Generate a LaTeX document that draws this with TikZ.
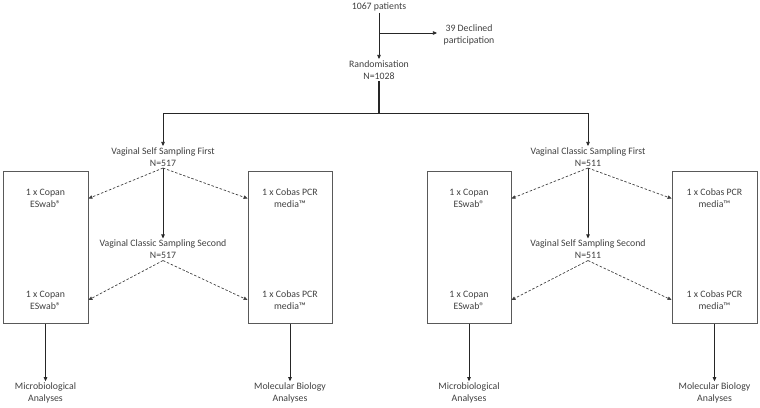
\documentclass[tikz,border=0pt]{standalone}
\usepackage{fontspec}
\setmainfont{Carlito}
\usetikzlibrary{arrows.meta}
\begin{document}
\begin{tikzpicture}[x=1pt,y=-1pt,
  txt/.style={align=center,inner sep=1.5pt,text=black!75,font=\fontsize{9.8}{11.8}\selectfont},
  box/.style={draw=black!65,line width=0.8pt,inner sep=0pt},
  ln/.style={draw=black!85,line width=0.7pt},
  arr/.style={ln,-{Triangle[length=4pt,width=3.5pt]}},
  darr/.style={arr,dash pattern=on 2.5pt off 1.8pt,draw=black!75}]
\useasboundingbox (0,0) rectangle (760,407);
% top
\node[txt] (pat) at (379,7) {1067 patients};
\node[txt] (rand) at (379,70) {Randomisation\\N=1028};
\node[txt] (dec) at (469,35) {39 Declined\\participation};
\coordinate (j1) at (379,33);
\coordinate (br) at (379,113);
\draw[arr] (pat) -- (rand);
\draw[arr,shorten >=5pt] (j1) -- (dec.west |- j1);
\draw[ln,line width=1.5pt] (rand) -- (br);
% left group
\node[txt] (s1) at (163,157) {Vaginal Self Sampling First\\N=517};
\node[txt] (s2) at (163,249.5) {Vaginal Classic Sampling Second\\N=517};
\node[box,minimum width=85pt,minimum height=152pt] (bL) at (45.5,247.5) {};
\node[box,minimum width=84pt,minimum height=152pt] (bR) at (290,247.5) {};
\node[txt] (cL1) at (45.5,198.5) {1 x Copan\\ESwab®};
\node[txt] (cL2) at (45.5,300) {1 x Copan\\ESwab®};
\node[txt] (cR1) at (290,198.5) {1 x Cobas PCR\\media™};
\node[txt] (cR2) at (290,300) {1 x Cobas PCR\\media™};
\node[txt] (aL) at (45.5,393) {Microbiological\\Analyses};
\node[txt] (aR) at (290,393) {Molecular Biology\\Analyses};
\draw[arr] (br) -| (s1);
\draw[arr] (s1) -- (s2);
\draw[darr] (s1.south) -- (bL.east |- cL1);
\draw[darr] (s1.south) -- (bR.west |- cR1);
\draw[darr] (s2.south) -- (bL.east |- cL2);
\draw[darr] (s2.south) -- (bR.west |- cR2);
\draw[arr] (bL) -- (aL);
\draw[arr] (bR) -- (aR);
% right group
\node[txt] (t1) at (588,157) {Vaginal Classic Sampling First\\N=511};
\node[txt] (t2) at (588,249.5) {Vaginal Self Sampling Second\\N=511};
\node[box,minimum width=84pt,minimum height=152pt] (dL) at (469,247.5) {};
\node[box,minimum width=85pt,minimum height=152pt] (dR) at (714.5,247.5) {};
\node[txt] (eL1) at (469,198.5) {1 x Copan\\ESwab®};
\node[txt] (eL2) at (469,300) {1 x Copan\\ESwab®};
\node[txt] (eR1) at (714.5,198.5) {1 x Cobas PCR\\media™};
\node[txt] (eR2) at (714.5,300) {1 x Cobas PCR\\media™};
\node[txt] (fL) at (469,393) {Microbiological\\Analyses};
\node[txt] (fR) at (714.5,393) {Molecular Biology\\Analyses};
\draw[arr] (br) -| (t1);
\draw[arr] (t1) -- (t2);
\draw[darr] (t1.south) -- (dL.east |- eL1);
\draw[darr] (t1.south) -- (dR.west |- eR1);
\draw[darr] (t2.south) -- (dL.east |- eL2);
\draw[darr] (t2.south) -- (dR.west |- eR2);
\draw[arr] (dL) -- (fL);
\draw[arr] (dR) -- (fR);
\end{tikzpicture}
\end{document}
